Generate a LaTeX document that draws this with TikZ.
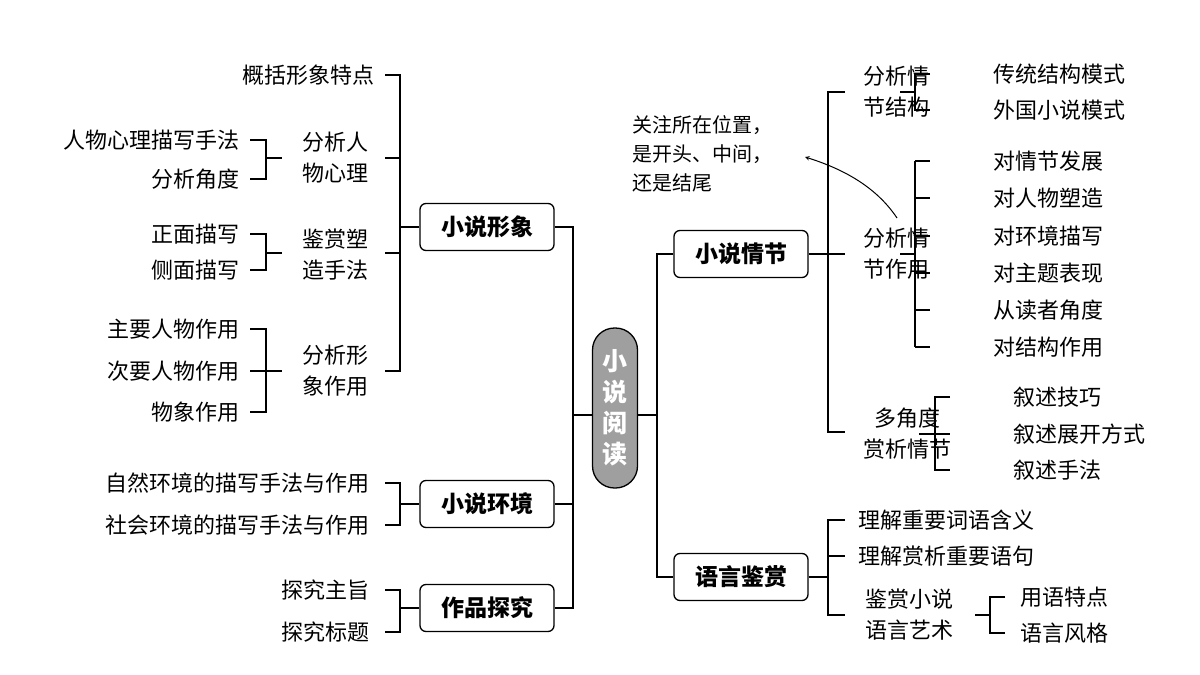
\documentclass[tikz,border=0pt]{standalone}
\usepackage{fontspec}
\setmainfont{Noto Sans CJK SC}
\newfontfamily\cjkb{Noto Sans CJK SC Bold}
\begin{document}
\begin{tikzpicture}[x=1pt,y=-1pt,line width=1.3pt,
  t/.style={inner sep=0pt,font=\fontsize{22}{31}\selectfont,align=center},
  box/.style={draw,rounded corners=6pt,minimum width=134pt,minimum height=47pt,inner sep=0pt,font=\fontsize{23}{28}\selectfont\bfseries},
  ln/.style={draw,line width=1.3pt}]
\useasboundingbox (0,0) rectangle (1200,675);
% center
\node[draw,fill=gray!75,rounded corners=22pt,minimum width=45pt,minimum height=160pt,inner sep=0pt,text=white,font=\fontsize{25}{31}\selectfont\bfseries,align=center] (c) at (615,408) {小\\说\\阅\\读};
% left boxes
\node[box] (xx) at (487,227) {小说形象};
\node[box] (hj) at (487,504) {小说环境};
\node[box] (tj) at (487,608) {作品探究};
\coordinate (lt) at (573,415);
\draw (c.west |- lt) -- (lt);
\draw (xx.east) -| (573,415) |- (tj.east);
\draw (hj.east) -- (573,504);
% xingxiang subs
\node[t,anchor=east] (a1) at (375,75) {概括形象特点};
\node[t] (a2) at (335,158) {分析人\\物心理};
\node[t] (a3) at (335,255) {鉴赏塑\\造手法};
\node[t] (a4) at (335,371) {分析形\\象作用};
\draw (385,75) -| (400,371) -- (385,371);
\draw (385,158) -- (400,158); \draw (385,253) -- (400,253);
\draw (400,227) -- (xx.west);
\node[t,anchor=east] (b1) at (240,140) {人物心理描写手法};
\node[t,anchor=east] (b2) at (240,179) {分析角度};
\draw (250,140) -| (266,179) -- (250,179); \draw (266,158) -- (282,158);
\node[t,anchor=east] (b3) at (240,234) {正面描写};
\node[t,anchor=east] (b4) at (240,270) {侧面描写};
\draw (250,234) -| (266,270) -- (250,270); \draw (266,253) -- (282,253);
\node[t,anchor=east] (b5) at (240,329) {主要人物作用};
\node[t,anchor=east] (b6) at (240,371) {次要人物作用};
\node[t,anchor=east] (b7) at (240,412) {物象作用};
\draw (250,329) -| (266,412) -- (250,412); \draw (250,371) -- (282,371);
% huanjing
\node[t,anchor=east] (e1) at (370,483) {自然环境的描写手法与作用};
\node[t,anchor=east] (e2) at (370,525) {社会环境的描写手法与作用};
\draw (385,483) -| (400,525) -- (385,525); \draw (400,504) -- (hj.west);
% tanjiu
\node[t,anchor=east] (f1) at (370,590) {探究主旨};
\node[t,anchor=east] (f2) at (370,632) {探究标题};
\draw (385,590) -| (400,632) -- (385,632); \draw (400,608) -- (tj.west);
% right boxes
\node[box] (qj) at (741,254) {小说情节};
\node[box] (yy) at (741,577) {语言鉴赏};
\draw (c.east |- lt) -- (657,415);
\draw (qj.west) -| (657,577) -- (yy.west);
% qingjie
\node[t] (g1) at (896,92) {分析情\\节结构};
\node[t] (g2) at (896,254) {分析情\\节作用};
\node[t] (g3) at (907,434) {多角度\\赏析情节};
\draw (845,92) -| (828,432) -- (845,432);
\draw (qj.east) -- (845,254);
\node[t,anchor=west] at (993,74) {传统结构模式};
\node[t,anchor=west] at (993,110) {外国小说模式};
\draw (930,74) -| (915,110) -- (930,110); \draw (900,92) -- (915,92);
\foreach \y/\s in {161/对情节发展,198/对人物塑造,236/对环境描写,273/对主题表现,310/从读者角度,347/对结构作用}{
  \node[t,anchor=west] at (993,\y) {\s};
  \draw (915,\y) -- (930,\y);}
\draw (915,161) -- (915,347); \draw (900,254) -- (915,254);
\node[t,anchor=west] at (1013,397) {叙述技巧};
\node[t,anchor=west] at (1013,434) {叙述展开方式};
\node[t,anchor=west] at (1013,470) {叙述手法};
\draw (950,397) -| (935,470) -- (950,470); \draw (919,434) -- (950,434);
% annotation
\node[t,anchor=north west,align=left,font=\fontsize{20}{29}\selectfont] (n) at (632,115) {关注所在位置，\\是开头、中间，\\还是结尾};
\coordinate (ar) at (897,218);
\draw[line width=1pt,-stealth] (ar) .. controls (875,185) and (840,168) .. (805,157);
% yuyan
\node[t,anchor=west] at (858,520) {理解重要词语含义};
\node[t,anchor=west] at (858,556) {理解赏析重要语句};
\node[t] (h3) at (909,615) {鉴赏小说\\语言艺术};
\draw (845,520) -| (828,615) -- (845,615); \draw (yy.east) -- (828,577); \draw (828,556) -- (845,556);
\node[t,anchor=west] at (1020,597) {用语特点};
\node[t,anchor=west] at (1020,633) {语言风格};
\draw (1005,597) -| (990,633) -- (1005,633); \draw (975,615) -- (990,615);
\end{tikzpicture}
\end{document}
